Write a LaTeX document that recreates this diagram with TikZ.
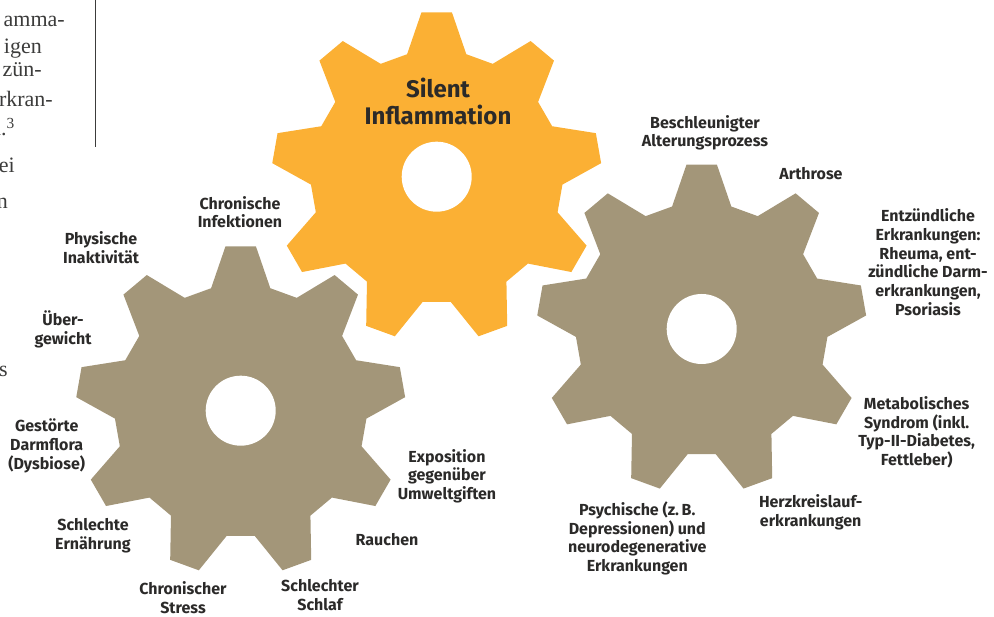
\documentclass[tikz,border=0pt]{standalone}
\usepackage{fontspec}
\usepackage{tikz}
\usepackage{xcolor}
\newfontfamily\labelfont{Fira Sans}
\newfontfamily\bodyfont{Liberation Serif}
\definecolor{gearyellow}{HTML}{FBB034}
\definecolor{gearbrown}{HTML}{A39679}
\definecolor{labeltext}{HTML}{2B2A29}
\definecolor{bodytext}{HTML}{3C3C3B}

% nine-tooth gear round a named centre
\newcommand{\drawgear}[2]{%
    \fill[#2] ([shift={(103.6:126)}]#1)
        \foreach \k in {0,...,8} {
            -- ([shift={({90+13.6-40*\k}:126)}]#1)
            -- ([shift={({90+5.3-40*\k}:165)}]#1)
            -- ([shift={({90-5.3-40*\k}:165)}]#1)
            -- ([shift={({90-13.6-40*\k}:126)}]#1)
        } -- cycle;
    \fill[white] (#1) circle (35);
}

\begin{document}
\begin{tikzpicture}[x=1pt, y=1pt,
    lbl/.style={align=center, inner sep=1pt, text=labeltext, font=\labelfont\bfseries\fontsize{16}{18.7}\selectfont},
    body/.style={anchor=base east, inner sep=0pt, text=bodytext, font=\bodyfont\fontsize{22}{28}\selectfont}]
    \useasboundingbox (0,0) rectangle (994,617);
    \clip (0,0) rectangle (994,617);

    \coordinate (silent) at (436.7,440.3);
    \coordinate (causes) at (240.7,206.3);
    \coordinate (effects) at (701.7,288);

    \drawgear{causes}{gearbrown}
    \drawgear{effects}{gearbrown}
    \drawgear{silent}{gearyellow}

    \node[lbl, font=\labelfont\bfseries\fontsize{24}{26.7}\selectfont] (title) at (438,515.3) {Silent\\Inflammation};

    \node[lbl] (infekt) at (240,404.8) {Chronische\\Infektionen};
    \node[lbl] (inaktiv) at (101,369.5) {Physische\\Inaktivität};
    \node[lbl] (gewicht) at (63,287.5) {Über-\\gewicht};
    \node[lbl] (darm) at (46.7,171.3) {Gestörte\\Darmflora\\(Dysbiose)};
    \node[lbl] (ernaehrung) at (93,81) {Schlechte\\Ernährung};
    \node[lbl] (stress) at (183,19.5) {Chronischer\\Stress};
    \node[lbl] (schlaf) at (320,22) {Schlechter\\Schlaf};
    \node[lbl] (rauchen) at (387,77) {Rauchen};
    \node[lbl] (umwelt) at (447,141) {Exposition\\gegenüber\\Umweltgiften};

    \node[lbl] (altern) at (705,484.2) {Beschleunigter\\Alterungsprozess};
    \node[lbl] (arthrose) at (811,443.7) {Arthrose};
    \node[lbl] (entzuend) at (928,354.8) {Entzündliche\\Erkrankungen:\\Rheuma, ent-\\zündliche Darm-\\erkrankungen,\\Psoriasis};
    \node[lbl] (metabol) at (916.7,184.8) {Metabolisches\\Syndrom (inkl.\\Typ-II-Diabetes,\\Fettleber)};
    \node[lbl] (herz) at (810.7,104.5) {Herzkreislauf-\\erkrankungen};
    \node[lbl] (psych) at (637.3,78.7) {Psychische (z.\,B.\\Depressionen) und\\neurodegenerative\\Erkrankungen};

    % cut-off column text on the left
    \node[body] (t1) at (65,590) {amma-};
    \node[body] (t2) at (42,563) {igen};
    \node[body] (t3) at (42,540) {zün-};
    \node[body] (t4) at (53,510) {rkran-};
    \node[body] (t5) at (15,481) {n.\textsuperscript{3}};
    \node[body] (t6) at (15,444) {ei};
    \node[body] (t7) at (8,408) {n};
    \node[body] (t8) at (8,240) {s};

    \coordinate (ruletop) at (95.7,617);
    \coordinate (rulebot) at (95.7,470);
    \draw[bodytext, line width=1.2] (ruletop) -- (rulebot);
\end{tikzpicture}
\end{document}
